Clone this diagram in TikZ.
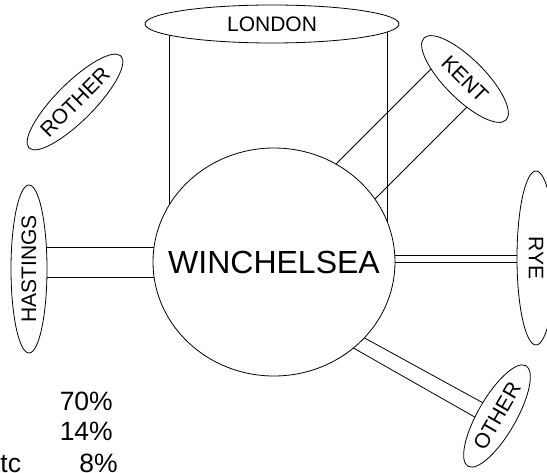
\documentclass[tikz,border=0pt]{standalone}
\usepackage{fontspec}
\setmainfont{Liberation Sans}
\usetikzlibrary{shapes.geometric}
\begin{document}
\begin{tikzpicture}[x=1pt,y=-1pt,
  band/.style={draw=black,line width=0.8pt},
  place/.style={ellipse,draw=black,fill=white,line width=0.8pt,inner sep=0pt,
    font=\fontsize{21}{25}\selectfont},
  pct/.style={inner sep=0pt,font=\fontsize{26.5}{31}\selectfont}]
\useasboundingbox (0,0) rectangle (547,473);
\clip (0,0) rectangle (547,473);
\fill[white] (0,0) rectangle (547,473);
% band end points (covered by the filled shapes)
\coordinate (la1) at (169,24);  \coordinate (lb1) at (169,262);
\coordinate (la2) at (387,24);  \coordinate (lb2) at (387,262);
\coordinate (ka1) at (445,55);  \coordinate (kb1) at (300,200);
\coordinate (ka2) at (480,94);  \coordinate (kb2) at (330,244);
\coordinate (ha1) at (29,247);  \coordinate (hb1) at (274,247);
\coordinate (ha2) at (29,277);  \coordinate (hb2) at (274,277);
\coordinate (ra1) at (536,255); \coordinate (rb1) at (274,255);
\coordinate (ra2) at (536,262); \coordinate (rb2) at (274,262);
\coordinate (oa1) at (496,410); \coordinate (ob1) at (339,324);
\coordinate (oa2) at (487,424); \coordinate (ob2) at (327,333);
\draw[band] (la1) -- (lb1);
\draw[band] (la2) -- (lb2);
\draw[band] (ka1) -- (kb1);
\draw[band] (ka2) -- (kb2);
\draw[band] (ha1) -- (hb1);
\draw[band] (ha2) -- (hb2);
\draw[band] (ra1) -- (rb1);
\draw[band] (ra2) -- (rb2);
\draw[band] (oa1) -- (ob1);
\draw[band] (oa2) -- (ob2);
% places
\node[place,minimum width=242pt,minimum height=228pt,
  label={[font=\fontsize{32}{38}\selectfont]center:WINCHELSEA}] (win) at (274,262) {};
\node[place,minimum width=254pt,minimum height=38pt] (london) at (272,24) {LONDON};
\node[place,rotate=-45,minimum width=116pt,minimum height=40pt] (kent) at (465,79) {KENT};
\node[place,rotate=45,minimum width=130pt,minimum height=38pt] (rother) at (75,102) {ROTHER};
\node[place,rotate=90,minimum width=168pt,minimum height=36pt] (hastings) at (29,269) {HASTINGS};
\node[place,rotate=-90,minimum width=174pt,minimum height=38pt] (rye) at (536,258) {RYE};
\node[place,rotate=60,minimum width=116pt,minimum height=38pt] (other) at (497,416) {OTHER};
% percentages
\node[pct,anchor=base east] (p1) at (113,410) {70\%};
\node[pct,anchor=base east] (p2) at (113,441) {14\%};
\node[pct,anchor=base east] (p3) at (118,472) {8\%};
\node[pct,anchor=base west] (etc) at (-14.5,472) {etc};
\end{tikzpicture}
\end{document}
